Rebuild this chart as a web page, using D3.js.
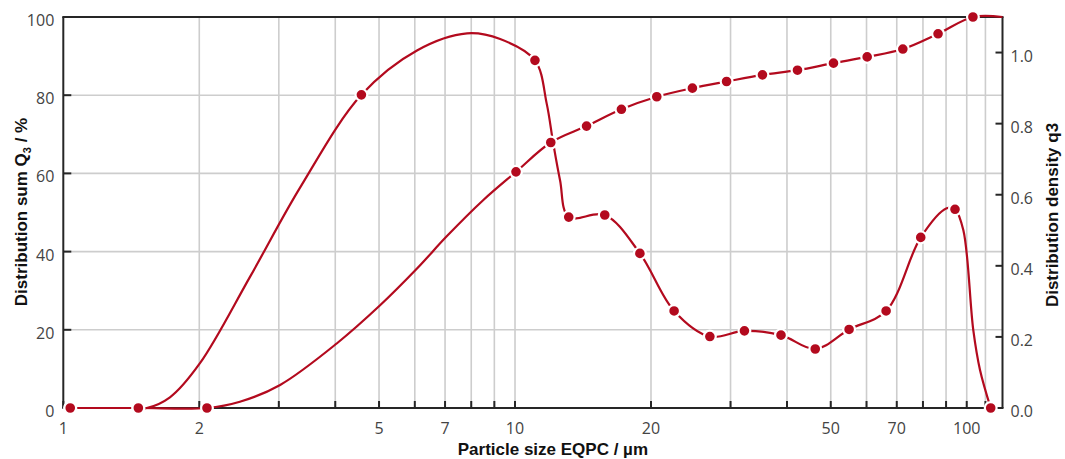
<!DOCTYPE html>
<html>
<head>
<meta charset="utf-8">
<script src="https://cdn.jsdelivr.net/npm/d3@7"></script>
<style>
  body { margin: 0; background: #fff; }
  svg { display: block; }
  .tick-label { font-family: "Open Sans", sans-serif; font-size: 16px; fill: #444; }
  .axis-title { font-family: "Liberation Sans", Arial, sans-serif; font-weight: bold; font-size: 17px; fill: #111; }
</style>
</head>
<body>
<svg id="chart"></svg>
<script>
// cumulative distribution Q3 (left axis), markers
var sumSizes = [1.036, 1.466, 2.08, 10.05, 12.0, 14.4, 17.2, 20.6, 24.7, 29.4, 35.3, 42.2, 50.7, 60.2, 72.2, 86.4, 103.2];
var sumValues = [0, 0, 0, 60.4, 67.9, 72.1, 76.4, 79.6, 81.8, 83.5, 85.2, 86.4, 88.2, 89.8, 91.8, 95.7, 100];
// extra readings of the smooth Q3 curve where no marker is drawn
var sumCurveSizes = [2.46, 3.02, 4.03, 5.02, 6.06, 7.06, 8.51, 120];
var sumCurveValues = [1.6, 5.9, 16.5, 26.2, 35.6, 43.9, 53.2, 100];

// density distribution q3 (right axis), markers
var densitySizes = [1.036, 1.466, 4.57, 11.07, 13.15, 15.8, 18.9, 22.5, 27.0, 32.2, 38.8, 46.2, 54.9, 66.3, 79.1, 94.2, 113];
var densityValues = [0, 0, 0.881, 0.978, 0.537, 0.543, 0.435, 0.273, 0.201, 0.217, 0.205, 0.166, 0.221, 0.273, 0.48, 0.559, 0];
// extra readings of the smooth q3 curve
var densityCurveSizes = [1.53, 1.722, 2.007, 2.59, 3.343, 6.067, 7.83, 9.27, 11.75, 12.15, 12.58, 90.3, 98.3, 103.4, 107.0];
var densityCurveValues = [0, 0.03, 0.126, 0.369, 0.62, 1.006, 1.054, 1.038, 0.857, 0.745, 0.641, 0.562, 0.5, 0.219, 0.107];

var xGridValues = [2, 3, 4, 5, 6, 7, 8, 9, 10, 20, 30, 40, 50, 60, 70, 80, 90, 100, 110];
var xLabelValues = [1, 2, 5, 7, 10, 20, 50, 70, 100];
var sumTicks = [0, 20, 40, 60, 80, 100];
var densityTicks = [0, 0.2, 0.4, 0.6, 0.8, 1.0];

var width = 1065, height = 459;
var margin = { top: 17, right: 62.5, bottom: 51, left: 63.3 };
var red = "#b30a1e";

var svg = d3.select("#chart").attr("width", width).attr("height", height);
var innerW = width - margin.left - margin.right;
var innerH = height - margin.top - margin.bottom;

var x = d3.scaleLog().domain([1, 120]).range([margin.left, margin.left + innerW]);
var ySum = d3.scaleLinear().domain([0, 100]).range([margin.top + innerH, margin.top]);
var yDensity = d3.scaleLinear().domain([0, 1.1]).range([margin.top + innerH, margin.top]);

var x0 = x.range()[0], x1 = x.range()[1];
var yTop = margin.top, yBottom = margin.top + innerH;

var zip = function(sizes, values) {
  return sizes.map(function(s, i) {
    return { size: s, value: values[i] };
  });
};

var sumMarks = zip(sumSizes, sumValues);
var densityMarks = zip(densitySizes, densityValues);
var sumLine = sumMarks.concat(zip(sumCurveSizes, sumCurveValues)).sort(function(a, b) { return a.size - b.size; });
var densityLine = densityMarks.concat(zip(densityCurveSizes, densityCurveValues)).sort(function(a, b) { return a.size - b.size; });

// grid
var grid = svg.append("g").attr("class", "grid")
  .attr("stroke", "#cdcdcd").attr("stroke-width", 1.6);
grid.selectAll(".vgrid").data(xGridValues).enter().append("line")
  .attr("x1", function(d) { return x(d); })
  .attr("x2", function(d) { return x(d); })
  .attr("y1", yTop).attr("y2", yBottom);
grid.selectAll(".hgrid").data(sumTicks.slice(1, -1)).enter().append("line")
  .attr("x1", x0).attr("x2", x1)
  .attr("y1", function(d) { return ySum(d); })
  .attr("y2", function(d) { return ySum(d); });

// frame and ticks
var axes = svg.append("g").attr("stroke", "#262626").attr("stroke-width", 2);
axes.append("line").attr("x1", x0 - 1).attr("x2", x1 + 1).attr("y1", yBottom).attr("y2", yBottom);
axes.append("line").attr("x1", x0 - 1).attr("x2", x1 + 1).attr("y1", yTop).attr("y2", yTop);
axes.append("line").attr("x1", x0).attr("x2", x0).attr("y1", yTop).attr("y2", yBottom);
axes.append("line").attr("x1", x1).attr("x2", x1).attr("y1", yTop).attr("y2", yBottom);

axes.selectAll(".xtick").data([1].concat(xGridValues)).enter().append("line")
  .attr("x1", function(d) { return x(d); })
  .attr("x2", function(d) { return x(d); })
  .attr("y1", yBottom).attr("y2", yBottom - 7);
axes.selectAll(".ltick").data(sumTicks).enter().append("line")
  .attr("x1", x0).attr("x2", x0 + 8)
  .attr("y1", function(d) { return ySum(d); })
  .attr("y2", function(d) { return ySum(d); });
axes.selectAll(".rtick").data(densityTicks).enter().append("line")
  .attr("x1", x1).attr("x2", x1 - 7)
  .attr("y1", function(d) { return yDensity(d); })
  .attr("y2", function(d) { return yDensity(d); });

// tick labels
svg.selectAll(".xlabel").data(xLabelValues).enter().append("text")
  .attr("class", "tick-label")
  .attr("x", function(d) { return x(d); })
  .attr("y", yBottom + 26)
  .attr("text-anchor", "middle")
  .text(function(d) { return d; });
svg.selectAll(".llabel").data(sumTicks).enter().append("text")
  .attr("class", "tick-label")
  .attr("x", x0 - 9)
  .attr("y", function(d) { return ySum(d) + 9; })
  .attr("text-anchor", "end")
  .text(function(d) { return d; });
svg.selectAll(".rlabel").data(densityTicks).enter().append("text")
  .attr("class", "tick-label")
  .attr("x", x1 + 8)
  .attr("y", function(d) { return yDensity(d) + 9; })
  .attr("text-anchor", "start")
  .text(d3.format(".1f"));

// axis titles
svg.append("text").attr("class", "axis-title")
  .attr("x", (x0 + x1) / 2 + 20).attr("y", 455)
  .attr("text-anchor", "middle")
  .text("Particle size EQPC / µm");

var leftTitle = svg.append("text").attr("class", "axis-title")
  .attr("transform", "translate(27," + 212 + ") rotate(-90)")
  .attr("text-anchor", "middle");
leftTitle.append("tspan").text("Distribution sum Q");
leftTitle.append("tspan").attr("dy", 4).attr("font-size", 11).text("3");
leftTitle.append("tspan").attr("dy", -4).text(" / %");

svg.append("text").attr("class", "axis-title")
  .attr("transform", "translate(1058," + 215 + ") rotate(-90)")
  .attr("text-anchor", "middle")
  .text("Distribution density q3");

// series, both smoothed through the markers and the curve readings
var sumPath = d3.line()
  .x(function(d) { return x(d.size); })
  .y(function(d) { return ySum(d.value); })
  .curve(d3.curveCatmullRom.alpha(0.5));
var densityPath = d3.line()
  .x(function(d) { return x(d.size); })
  .y(function(d) { return yDensity(d.value); })
  .curve(d3.curveCatmullRom.alpha(0.5));

var series = svg.append("g").attr("class", "series");
series.append("path").datum(densityLine)
  .attr("d", densityPath)
  .attr("fill", "none").attr("stroke", red).attr("stroke-width", 2.2);
series.append("path").datum(sumLine)
  .attr("d", sumPath)
  .attr("fill", "none").attr("stroke", red).attr("stroke-width", 2.2);

series.selectAll(".dmark").data(densityMarks).enter().append("circle")
  .attr("cx", function(d) { return x(d.size); })
  .attr("cy", function(d) { return yDensity(d.value); })
  .attr("r", 5.9)
  .attr("fill", red).attr("stroke", "#fff").attr("stroke-width", 2.2);
series.selectAll(".smark").data(sumMarks).enter().append("circle")
  .attr("cx", function(d) { return x(d.size); })
  .attr("cy", function(d) { return ySum(d.value); })
  .attr("r", 5.9)
  .attr("fill", red).attr("stroke", "#fff").attr("stroke-width", 2.2);
</script>
</body>
</html>
